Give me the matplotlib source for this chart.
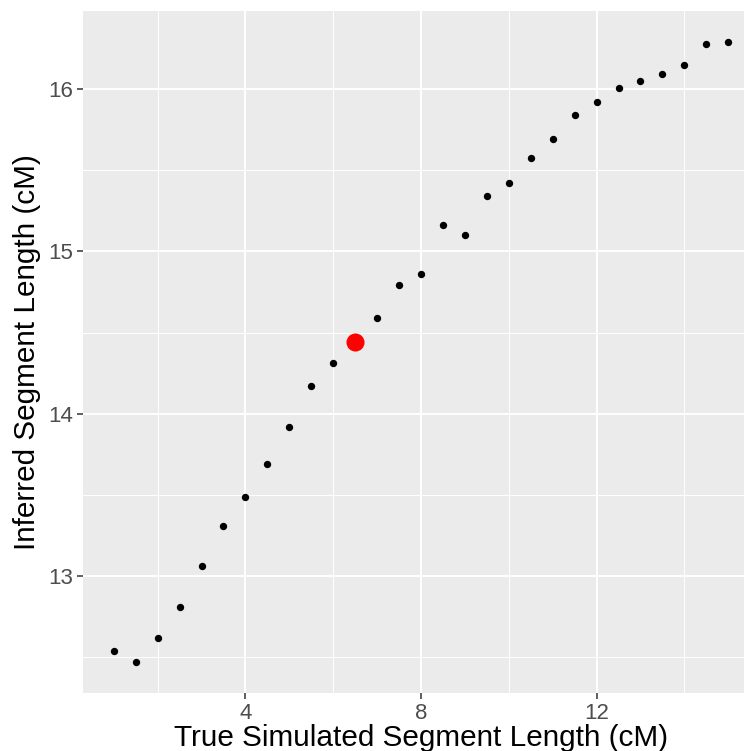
import matplotlib
matplotlib.use("Agg")
import matplotlib.pyplot as plt
from matplotlib.ticker import FixedLocator

plt.rcParams['font.family'] = ['Liberation Sans', 'DejaVu Sans']

# true simulated length (cM) vs inferred length (cM)
true_len = [1.0, 1.5, 2.0, 2.5, 3.0, 3.5, 4.0, 4.5, 5.0, 5.5, 6.0, 6.5, 7.0, 7.5,
            8.0, 8.5, 9.0, 9.5, 10.0, 10.5, 11.0, 11.5, 12.0, 12.5, 13.0, 13.5,
            14.0, 14.5, 15.0]
inferred_len = [12.54, 12.47, 12.62, 12.81, 13.06, 13.31, 13.49, 13.69, 13.92,
                14.17, 14.31, 14.44, 14.59, 14.79, 14.86, 15.16, 15.10, 15.34,
                15.42, 15.575, 15.69, 15.84, 15.92, 16.005, 16.05, 16.09, 16.15,
                16.275, 16.29]
# highlighted point
hi_x = [6.5]
hi_y = [14.44]

x_major = [4, 8, 12]
x_minor = [2, 6, 10, 14]
y_major = [13, 14, 15, 16]
y_minor = [12.5, 13.5, 14.5, 15.5]

fig = plt.figure(figsize=(7.44, 7.51), dpi=100)
# panel runs past the right edge like the original crop
ax = fig.add_axes([83 / 744, 58 / 751, 676 / 744, 682 / 751])
ax.set_facecolor('#EBEBEB')
for s in ax.spines.values():
    s.set_visible(False)

ax.set_xlim(0.3, 15.7)
ax.set_ylim(12.28, 16.48)
ax.xaxis.set_major_locator(FixedLocator(x_major))
ax.xaxis.set_minor_locator(FixedLocator(x_minor))
ax.yaxis.set_major_locator(FixedLocator(y_major))
ax.yaxis.set_minor_locator(FixedLocator(y_minor))
ax.set_xticklabels([str(v) for v in x_major])
ax.set_yticklabels([str(v) for v in y_major])

ax.grid(which='major', color='white', linewidth=1.4)
ax.grid(which='minor', color='white', linewidth=0.7)
ax.set_axisbelow(True)

ax.tick_params(which='major', length=4, width=1.1, color='#333333',
               labelsize=16, labelcolor='#4D4D4D', pad=3)
ax.tick_params(which='minor', length=0)

ax.plot(true_len, inferred_len, 'o', color='black', markersize=5.3,
        markeredgewidth=0, zorder=3)
ax.plot(hi_x, hi_y, 'o', color='#FF0000', markersize=13,
        markeredgewidth=0, zorder=4)

ax.set_xlabel('True Simulated Segment Length (cM)', fontsize=21.4,
              color='black', labelpad=0.5)
ax.set_ylabel('Inferred Segment Length (cM)', fontsize=21.4,
              color='black', labelpad=5)

fig.savefig('out.png', dpi=100)
